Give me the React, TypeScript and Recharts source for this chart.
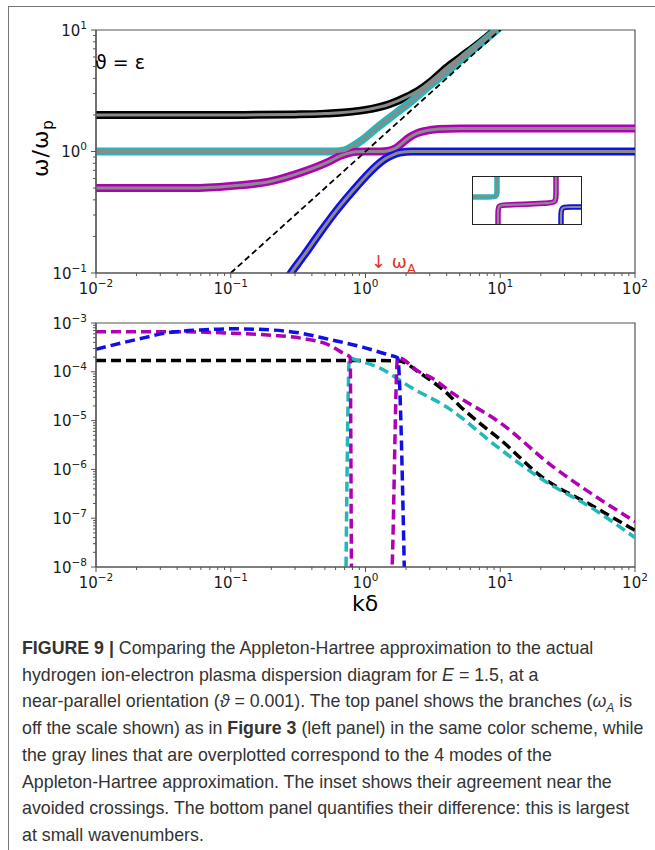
import React from "react";
import { LineChart, Line, XAxis, YAxis, ReferenceArea } from "recharts";

// ---- top panel: omega/omega_p against k*delta (log-log) ----
const blackTopK = [0.01, 0.1, 0.3, 0.5, 1, 1.5, 2, 2.5, 3, 4, 5, 7, 10, 12];
const blackTopW = [2.0, 2.0, 2.02, 2.05, 2.2, 2.45, 2.8, 3.2, 3.7, 4.9, 5.9, 7.8, 10.8, 12.8];

const cyanTopK = [0.01, 0.5, 0.6, 0.7, 0.8, 0.95, 1.2, 1.7, 2.2, 3, 4, 5.2, 7, 10, 12];
const cyanTopW = [1, 1, 1.0, 1.02, 1.1, 1.25, 1.55, 2.09, 2.6, 3.5, 4.5, 5.8, 7.6, 10.6, 12.6];

const magentaTopK = [0.01, 0.05, 0.1, 0.2, 0.33, 0.54, 0.65, 0.75, 0.85, 1.0, 1.3, 1.45, 1.6, 1.75, 1.9, 2.1, 2.4, 2.8, 3.5, 5, 10, 100];
const magentaTopW = [0.5, 0.5, 0.52, 0.57, 0.67, 0.83, 0.92, 0.97, 0.995, 1.0, 1.0, 1.01, 1.04, 1.1, 1.19, 1.3, 1.41, 1.48, 1.53, 1.55, 1.55, 1.55];

const blueTopK = [0.25, 0.28, 0.35, 0.46, 0.6, 0.8, 1.0, 1.2, 1.4, 1.6, 1.8, 2.2, 3, 100];
const blueTopW = [0.083, 0.1, 0.14, 0.215, 0.32, 0.47, 0.62, 0.76, 0.87, 0.94, 0.98, 1.0, 1.0, 1.0];

const lightK = [0.1, 12];
const lightW = [0.1, 12];

// ---- inset (zoom of the avoided crossings, arbitrary linear units) ----
const cyanInsetX = [-2, 17, 24, 24, 24, 24];
const cyanInsetY = [27, 27, 27, 33, 40, 52];
const magentaInsetX = [25, 25, 25, 32, 50, 73, 83, 83, 83];
const magentaInsetY = [-4, 10, 19, 19, 19.5, 21, 21, 30, 52];
const blueInsetX = [88, 88, 88, 96, 112];
const blueInsetY = [-4, 8, 17, 17, 17];

// ---- bottom panel: difference to Appleton-Hartree ----
const blackBotK = [0.01, 0.1, 1, 1.7, 2.0, 2.4, 3, 4, 5, 7, 10, 20, 50, 100];
const blackBotD = [1.7e-4, 1.7e-4, 1.7e-4, 1.68e-4, 1.5e-4, 1.05e-4, 6.9e-5, 3.7e-5, 2e-5, 9e-6, 4.1e-6, 7.3e-7, 1.7e-7, 5.6e-8];

const cyanBotK = [0.715, 0.76, 0.85, 1.27, 2.2, 4, 10, 20, 50, 100];
const cyanBotD = [5e-9, 1.9e-4, 1.75e-4, 1.2e-4, 4.7e-5, 1.9e-5, 2.6e-6, 6.5e-7, 1.5e-7, 4e-8];

const magentaBotK = [0.01, 0.04, 0.1, 0.2, 0.33, 0.54, 0.7, 0.77, 0.79, 1.55, 1.73, 2.5, 3, 4.4, 10, 25, 50, 100];
const magentaBotD = [6.6e-4, 6.6e-4, 6.2e-4, 5.6e-4, 4.9e-4, 3.5e-4, 2.3e-4, 2e-4, 5e-9, 5e-9, 1.95e-4, 1e-4, 7.9e-5, 3.7e-5, 9e-6, 1.1e-6, 2.9e-7, 8.5e-8];

const blueBotK = [0.01, 0.02, 0.034, 0.06, 0.1, 0.2, 0.33, 0.54, 0.95, 1.5, 1.73, 1.95];
const blueBotD = [2.9e-4, 4.6e-4, 6.3e-4, 7.2e-4, 7.6e-4, 7.2e-4, 6.2e-4, 4.6e-4, 3.2e-4, 2.2e-4, 1.95e-4, 5e-9];

// ---- ticks ----
const xMajor = [0.01, 0.1, 1, 10, 100];
const xMajorLabels = ["\u22122", "\u22121", "0", "1", "2"];
const yTopMajor = [0.1, 1, 10];
const yTopLabels = ["\u22121", "0", "1"];
const yBotMajor = [1e-8, 1e-7, 1e-6, 1e-5, 1e-4, 1e-3];
const yBotLabels = ["\u22128", "\u22127", "\u22126", "\u22125", "\u22124", "\u22123"];

const C = { black: "#000000", cyan: "#22b8b8", magenta: "#b000b4", blue: "#1010e6", gray: "#8a8a8a" };
const AX = "#555555";
const TICK_FONT = "DejaVu Sans";

const rows = (xs: number[], ys: number[]) => xs.map((x, i) => ({ x, y: ys[i] }));

const withMinor = (majors: number[]) => {
  const out: number[] = [...majors];
  for (let i = 0; i < majors.length - 1; i++) for (let m = 2; m < 10; m++) out.push(majors[i] * m);
  return out.sort((a, b) => a - b);
};

const majorIndex = (majors: number[], v: number) => majors.findIndex((m) => Math.abs(v - m) / m < 1e-6);

const makeXTick = (majors: number[], labels: string[]) => (props: any) => {
  const { x, y, payload } = props;
  const idx = majorIndex(majors, payload.value);
  const major = idx >= 0;
  return (
    <g>
      <line x1={x} x2={x} y1={y} y2={y + (major ? 5 : 3)} stroke={AX} strokeWidth={1} />
      {major && (
        <text x={x} y={y + 21} textAnchor="middle" fontFamily={TICK_FONT} fontSize={15} fill="#1a1a1a">
          <tspan>10</tspan>
          <tspan dy={-7} fontSize={10.5}>{labels[idx]}</tspan>
        </text>
      )}
    </g>
  );
};

const makeYTick = (majors: number[], labels: string[]) => (props: any) => {
  const { x, y, payload } = props;
  const idx = majorIndex(majors, payload.value);
  const major = idx >= 0;
  return (
    <g>
      <line x1={x - (major ? 5 : 3)} x2={x} y1={y} y2={y} stroke={AX} strokeWidth={1} />
      {major && (
        <text x={x - 9} y={y + 5.5} textAnchor="end" fontFamily={TICK_FONT} fontSize={15} fill="#1a1a1a">
          <tspan>10</tspan>
          <tspan dy={-7} fontSize={10.5}>{labels[idx]}</tspan>
        </text>
      )}
    </g>
  );
};

const XTick = makeXTick(xMajor, xMajorLabels);
const YTopTick = makeYTick(yTopMajor, yTopLabels);
const YBotTick = makeYTick(yBotMajor, yBotLabels);

const topModes = [
  { key: "black", data: rows(blackTopK, blackTopW), color: C.black },
  { key: "cyan", data: rows(cyanTopK, cyanTopW), color: C.cyan },
  { key: "magenta", data: rows(magentaTopK, magentaTopW), color: C.magenta },
  { key: "blue", data: rows(blueTopK, blueTopW), color: C.blue },
];

const insetModes = [
  { key: "cyan", data: rows(cyanInsetX, cyanInsetY), color: C.cyan },
  { key: "magenta", data: rows(magentaInsetX, magentaInsetY), color: C.magenta },
  { key: "blue", data: rows(blueInsetX, blueInsetY), color: C.blue },
];

const botModes = [
  { key: "black", data: rows(blackBotK, blackBotD), color: C.black },
  { key: "cyan", data: rows(cyanBotK, cyanBotD), color: C.cyan },
  { key: "magenta", data: rows(magentaBotK, magentaBotD), color: C.magenta },
  { key: "blue", data: rows(blueBotK, blueBotD), color: C.blue },
];

const abs = (left: number, top: number, extra: React.CSSProperties = {}): React.CSSProperties => ({
  position: "absolute",
  left,
  top,
  ...extra,
});

const captionStyle: React.CSSProperties = {
  position: "absolute",
  left: 22,
  fontFamily: "'Liberation Sans', Arial, sans-serif",
  fontSize: 17.8,
  color: "#333",
  whiteSpace: "nowrap",
  lineHeight: "22px",
};

const captionLines: React.ReactNode[] = [
  <>
    <b>FIGURE 9 |</b> Comparing the Appleton-Hartree approximation to the actual
  </>,
  <>
    hydrogen ion-electron plasma dispersion diagram for <i>E</i> = 1.5, at a
  </>,
  <>
    near-parallel orientation (<i>&#977;</i> = 0.001). The top panel shows the branches (<i>&omega;</i>
    <sub style={{ fontSize: 12, lineHeight: 0 }}>
      <i>A</i>
    </sub>{" "}
    is
  </>,
  <>
    off the scale shown) as in <b>Figure 3</b> (left panel) in the same color scheme, while
  </>,
  <>the gray lines that are overplotted correspond to the 4 modes of the</>,
  <>Appleton-Hartree approximation. The inset shows their agreement near the</>,
  <>avoided crossings. The bottom panel quantifies their difference: this is largest</>,
  <>at small wavenumbers.</>,
];

export default function App() {
  return (
    <div style={{ position: "absolute", left: 0, top: 0, width: 655, height: 850, background: "#fff", overflow: "hidden" }}>
      {/* outer figure frame */}
      <div style={abs(8, 6, { width: 700, height: 900, borderLeft: "1px solid #777", borderTop: "1px solid #777" })} />

      {/* top panel */}
      <div style={abs(0, 0)}>
        <LineChart width={655} height={300} margin={{ top: 30, right: 20, bottom: 0, left: 36 }}>
          <XAxis
            dataKey="x"
            type="number"
            scale="log"
            domain={[0.01, 100]}
            allowDataOverflow
            ticks={withMinor(xMajor)}
            interval={0}
            tickSize={0}
            tickMargin={0}
            tickLine={false}
            tick={<XTick />}
            height={27}
            axisLine={{ stroke: AX, strokeWidth: 1.2 }}
          />
          <YAxis
            dataKey="y"
            type="number"
            scale="log"
            domain={[0.1, 10]}
            allowDataOverflow
            ticks={withMinor(yTopMajor)}
            interval={0}
            tickSize={0}
            tickMargin={0}
            tickLine={false}
            tick={<YTopTick />}
            width={60}
            axisLine={{ stroke: AX, strokeWidth: 1.2 }}
          />
          <ReferenceArea x1={0.01} x2={100} y1={0.1} y2={10} fill="none" stroke={AX} strokeWidth={1.2} ifOverflow="visible" />
          {topModes.map((m) => (
            <Line key={m.key} data={m.data} dataKey="y" type="monotone" stroke={m.color} strokeWidth={8} dot={false} isAnimationActive={false} />
          ))}
          {topModes.map((m) => (
            <Line key={m.key + "-ah"} data={m.data} dataKey="y" type="monotone" stroke={C.gray} strokeWidth={3} dot={false} isAnimationActive={false} />
          ))}
          <Line data={rows(lightK, lightW)} dataKey="y" type="linear" stroke="#000" strokeWidth={1.8} strokeDasharray="6 3.5" dot={false} isAnimationActive={false} />
        </LineChart>
      </div>

      {/* inset */}
      <div style={abs(472, 176, { width: 108, height: 47, border: "1.2px solid #222", background: "#fff" })}>
        <LineChart width={108} height={47} margin={{ top: 0, right: 0, bottom: 0, left: 0 }}>
          <XAxis dataKey="x" type="number" domain={[0, 108]} allowDataOverflow hide />
          <YAxis dataKey="y" type="number" domain={[0, 47]} allowDataOverflow hide />
          {insetModes.map((m) => (
            <Line key={m.key} data={m.data} dataKey="y" type="basis" stroke={m.color} strokeWidth={5.5} dot={false} isAnimationActive={false} />
          ))}
          {insetModes.map((m) => (
            <Line key={m.key + "-ah"} data={m.data} dataKey="y" type="basis" stroke={C.gray} strokeWidth={2.2} dot={false} isAnimationActive={false} />
          ))}
        </LineChart>
      </div>

      {/* top panel annotations */}
      <div style={abs(95, 51, { fontFamily: "'DejaVu Sans'", fontSize: 19, color: "#000", lineHeight: "22px" })}>
        &#977; = &epsilon;
      </div>
      <div style={abs(371, 251, { fontFamily: "'DejaVu Sans'", fontSize: 18, color: "#e0352b", lineHeight: "22px" })}>
        &darr; &omega;<sub style={{ fontSize: 13, lineHeight: 0 }}>A</sub>
      </div>
      <div
        style={abs(40, 148, {
          fontFamily: "'DejaVu Sans'",
          fontSize: 22,
          color: "#000",
          transform: "translate(-50%, -50%) rotate(-90deg)",
          whiteSpace: "nowrap",
          letterSpacing: 1,
        })}
      >
        &omega;/&omega;<sub style={{ fontSize: 15, lineHeight: 0 }}>p</sub>
      </div>

      {/* bottom panel */}
      <div style={abs(0, 300)}>
        <LineChart width={655} height={320} margin={{ top: 23, right: 20, bottom: 0, left: 36 }}>
          <XAxis
            dataKey="x"
            type="number"
            scale="log"
            domain={[0.01, 100]}
            allowDataOverflow
            ticks={withMinor(xMajor)}
            interval={0}
            tickSize={0}
            tickMargin={0}
            tickLine={false}
            tick={<XTick />}
            height={53}
            axisLine={{ stroke: AX, strokeWidth: 1.2 }}
          />
          <YAxis
            dataKey="y"
            type="number"
            scale="log"
            domain={[1e-8, 1e-3]}
            allowDataOverflow
            ticks={withMinor(yBotMajor)}
            interval={0}
            tickSize={0}
            tickMargin={0}
            tickLine={false}
            tick={<YBotTick />}
            width={60}
            axisLine={{ stroke: AX, strokeWidth: 1.2 }}
          />
          <ReferenceArea x1={0.01} x2={100} y1={1e-8} y2={1e-3} fill="none" stroke={AX} strokeWidth={1.2} ifOverflow="visible" />
          {botModes.map((m) => (
            <Line key={m.key} data={m.data} dataKey="y" type="monotone" stroke={m.color} strokeWidth={3.5} strokeDasharray="10 5" dot={false} isAnimationActive={false} />
          ))}
        </LineChart>
      </div>
      <div style={abs(365, 603, { fontFamily: "'DejaVu Sans'", fontSize: 22, color: "#000", transform: "translate(-50%, -50%)" })}>
        k&delta;
      </div>

      {/* caption */}
      {captionLines.map((line, i) => (
        <div key={i} style={{ ...captionStyle, top: 637 + i * 26.7 }}>
          {line}
        </div>
      ))}
    </div>
  );
}
